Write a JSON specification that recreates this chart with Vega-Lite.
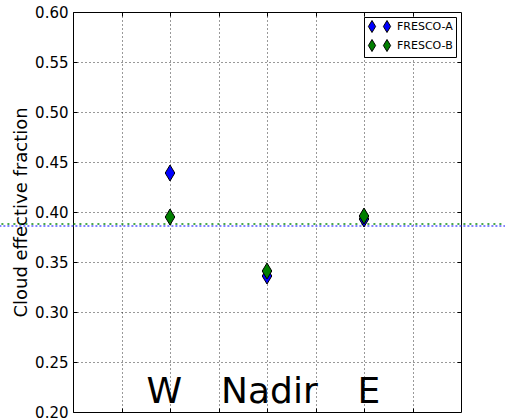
{
  "$schema": "https://vega.github.io/schema/vega-lite/v6.json",
  "width": 388,
  "height": 400,
  "autosize": {"type": "none"},
  "padding": {"left": 73, "top": 12, "right": 44, "bottom": 8},
  "background": "white",
  "config": {
    "view": {"stroke": "black", "strokeWidth": 1},
    "font": "DejaVu Sans",
    "axis": {
      "domain": false,
      "gridColor": "black",
      "gridDash": [1, 3],
      "gridOpacity": 0.8,
      "gridWidth": 1,
      "tickColor": "black",
      "tickSize": -4,
      "labelColor": "black",
      "titleColor": "black"
    }
  },
  "datasets": {
    "pts": [
      {"location": "W", "pos": 2, "series": "FRESCO-A", "value": 0.439},
      {"location": "Nadir", "pos": 4, "series": "FRESCO-A", "value": 0.336},
      {"location": "E", "pos": 6, "series": "FRESCO-A", "value": 0.393},
      {"location": "W", "pos": 2, "series": "FRESCO-B", "value": 0.395},
      {"location": "Nadir", "pos": 4, "series": "FRESCO-B", "value": 0.341},
      {"location": "E", "pos": 6, "series": "FRESCO-B", "value": 0.396}
    ],
    "means": [
      {"series": "FRESCO-A", "mean": 0.386},
      {"series": "FRESCO-B", "mean": 0.388}
    ],
    "labels": [
      {"label": "W", "pos": 1.88, "y": 0.209},
      {"label": "Nadir", "pos": 4.05, "y": 0.209},
      {"label": "E", "pos": 6.1, "y": 0.209}
    ]
  },
  "layer": [
    {
      "data": {"name": "means"},
      "transform": [{"filter": "datum.series === 'FRESCO-A'"}],
      "mark": {"type": "rule", "color": "#5a5aff", "strokeWidth": 1.5, "strokeDash": [2, 2], "clip": false},
      "encoding": {
        "x": {"datum": -1.6, "type": "quantitative", "scale": {"domain": [0, 8], "nice": false, "zero": false},
          "axis": {"orient": "top", "labels": false, "grid": false, "values": [1, 2, 3, 4, 5, 6, 7], "title": null}},
        "x2": {"datum": 9.2},
        "y": {"field": "mean", "type": "quantitative", "scale": {"domain": [0.2, 0.6], "nice": false, "zero": false},
          "axis": {"orient": "right", "labels": false, "grid": false, "values": [0.25, 0.3, 0.35, 0.4, 0.45, 0.5, 0.55], "title": null}}
      }
    },
    {
      "data": {"name": "means"},
      "transform": [{"filter": "datum.series === 'FRESCO-B'"}],
      "mark": {"type": "rule", "color": "#108a10", "strokeWidth": 1.5, "strokeDash": [2, 4], "clip": false},
      "encoding": {
        "x": {"datum": -1.6, "type": "quantitative", "axis": null},
        "x2": {"datum": 9.2},
        "y": {"field": "mean", "type": "quantitative", "axis": null}
      }
    },
    {
      "data": {"name": "pts"},
      "mark": {"type": "point", "filled": true, "shape": "M0,-1L0.6,0L0,1L-0.6,0Z", "size": 256, "stroke": "black", "strokeWidth": 1, "opacity": 1},
      "encoding": {
        "x": {"field": "pos", "type": "quantitative",
          "axis": {"orient": "bottom", "labels": false, "grid": true, "values": [1, 2, 3, 4, 5, 6, 7], "title": null}},
        "y": {"field": "value", "type": "quantitative",
          "axis": {"orient": "left", "grid": true, "values": [0.2, 0.25, 0.3, 0.35, 0.4, 0.45, 0.5, 0.55, 0.6], "format": ".2f",
            "labelFontSize": 15, "labelPadding": 9, "title": "Cloud effective fraction", "titleFontSize": 18, "titleFontWeight": "normal", "titlePadding": 4}},
        "color": {"field": "series", "type": "nominal",
          "scale": {"domain": ["FRESCO-A", "FRESCO-B"], "range": ["#0000ff", "#007f00"]},
          "legend": {"title": null, "orient": "top-right", "offset": 5, "fillColor": "white", "strokeColor": "black", "padding": 3, "cornerRadius": 0,
            "labelFontSize": 11, "labelColor": "black", "symbolType": "M-1.25,-1L-0.65,0L-1.25,1L-1.85,0Z M1.25,-1L1.85,0L1.25,1L0.65,0Z",
            "symbolSize": 144, "symbolStrokeColor": "black", "symbolStrokeWidth": 1, "symbolOpacity": 1, "symbolOffset": 6, "labelOffset": 11, "rowPadding": 2}}
      }
    },
    {
      "data": {"name": "labels"},
      "mark": {"type": "text", "fontSize": 36, "font": "DejaVu Sans", "align": "center", "baseline": "alphabetic", "color": "black"},
      "encoding": {
        "x": {"field": "pos", "type": "quantitative", "axis": null},
        "y": {"field": "y", "type": "quantitative", "axis": null},
        "text": {"field": "label"}
      }
    }
  ],
  "resolve": {"axis": {"x": "independent", "y": "independent"}}
}
